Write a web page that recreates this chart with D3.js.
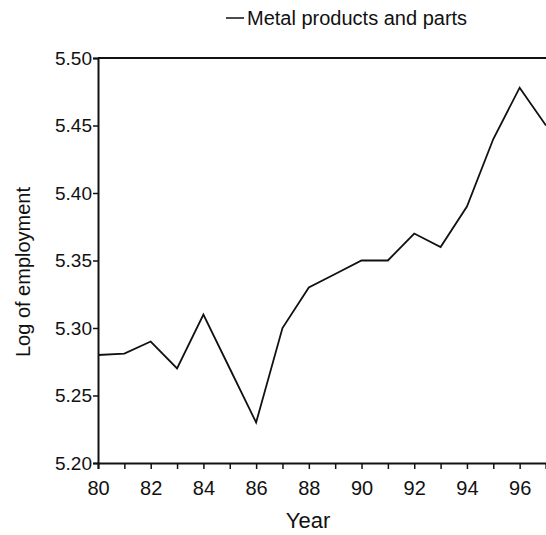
<!DOCTYPE html>
<html>
<head>
<meta charset="utf-8">
<script src="https://cdn.jsdelivr.net/npm/d3@7"></script>
<style>
  html, body { margin: 0; padding: 0; background: #fff; }
  svg text { font-family: "Liberation Sans", Arial, sans-serif; fill: #111; }
</style>
</head>
<body>
<svg id="chart" width="546" height="535"></svg>
<script>
// Metal products and parts: log of employment by year
const years = [80, 81, 82, 83, 84, 85, 86, 87, 88, 89, 90, 91, 92, 93, 94, 95, 96, 97];
const logEmployment = [5.28, 5.281, 5.29, 5.27, 5.31, 5.27, 5.23, 5.30, 5.33, 5.34, 5.35, 5.35, 5.37, 5.36, 5.39, 5.44, 5.478, 5.45];
const xTickLabels = [80, 82, 84, 86, 88, 90, 92, 94, 96];
const yTickLabels = [5.20, 5.25, 5.30, 5.35, 5.40, 5.45, 5.50];
const seriesName = "Metal products and parts";

const svg = d3.select("#chart");
const plot = { left: 98, right: 546, top: 58, bottom: 463 };

const x = d3.scaleLinear().domain([80, 97]).range([plot.left, plot.right]);
const y = d3.scaleLinear().domain([5.20, 5.50]).range([plot.bottom, plot.top]);

// frame: top edge
svg.append("line")
  .attr("x1", plot.left).attr("x2", plot.right)
  .attr("y1", plot.top).attr("y2", plot.top)
  .attr("stroke", "#111").attr("stroke-width", 2);

// y axis
const yAxis = svg.append("g")
  .attr("transform", `translate(${plot.left},0)`)
  .call(d3.axisLeft(y).tickValues(yTickLabels).tickFormat(d3.format(".2f")).tickSize(5).tickPadding(1));
yAxis.select(".domain").attr("stroke", "#111").attr("stroke-width", 2);
yAxis.selectAll(".tick line").attr("stroke", "#111").attr("stroke-width", 1.5);
yAxis.selectAll(".tick text").style("font-size", "19px");

// x axis with minor ticks at odd years
const xAxis = svg.append("g")
  .attr("transform", `translate(0,${plot.bottom})`)
  .call(d3.axisBottom(x).tickValues(years)
    .tickFormat(d => xTickLabels.includes(d) ? d : "").tickSize(6).tickPadding(12));
xAxis.select(".domain").attr("stroke", "#111").attr("stroke-width", 2);
xAxis.selectAll(".tick line").attr("stroke", "#111").attr("stroke-width", 1.5);
xAxis.selectAll(".tick text").style("font-size", "20px");

// series line
const line = d3.line().x((d, i) => x(years[i])).y(d => y(d));
svg.append("path")
  .datum(logEmployment)
  .attr("d", line)
  .attr("fill", "none")
  .attr("stroke", "#111")
  .attr("stroke-width", 1.8)
  .attr("stroke-linejoin", "miter");

// axis titles
svg.append("text")
  .attr("x", 308).attr("y", 528)
  .attr("text-anchor", "middle")
  .style("font-size", "22px")
  .text("Year");

svg.append("text")
  .attr("transform", "translate(30,272) rotate(-90)")
  .attr("text-anchor", "middle")
  .style("font-size", "20px")
  .text("Log of employment");

// legend
svg.append("line")
  .attr("x1", 226).attr("x2", 244)
  .attr("y1", 18).attr("y2", 18)
  .attr("stroke", "#111").attr("stroke-width", 1.5);
svg.append("text")
  .attr("x", 247).attr("y", 25)
  .style("font-size", "20px")
  .text(seriesName);
</script>
</body>
</html>
